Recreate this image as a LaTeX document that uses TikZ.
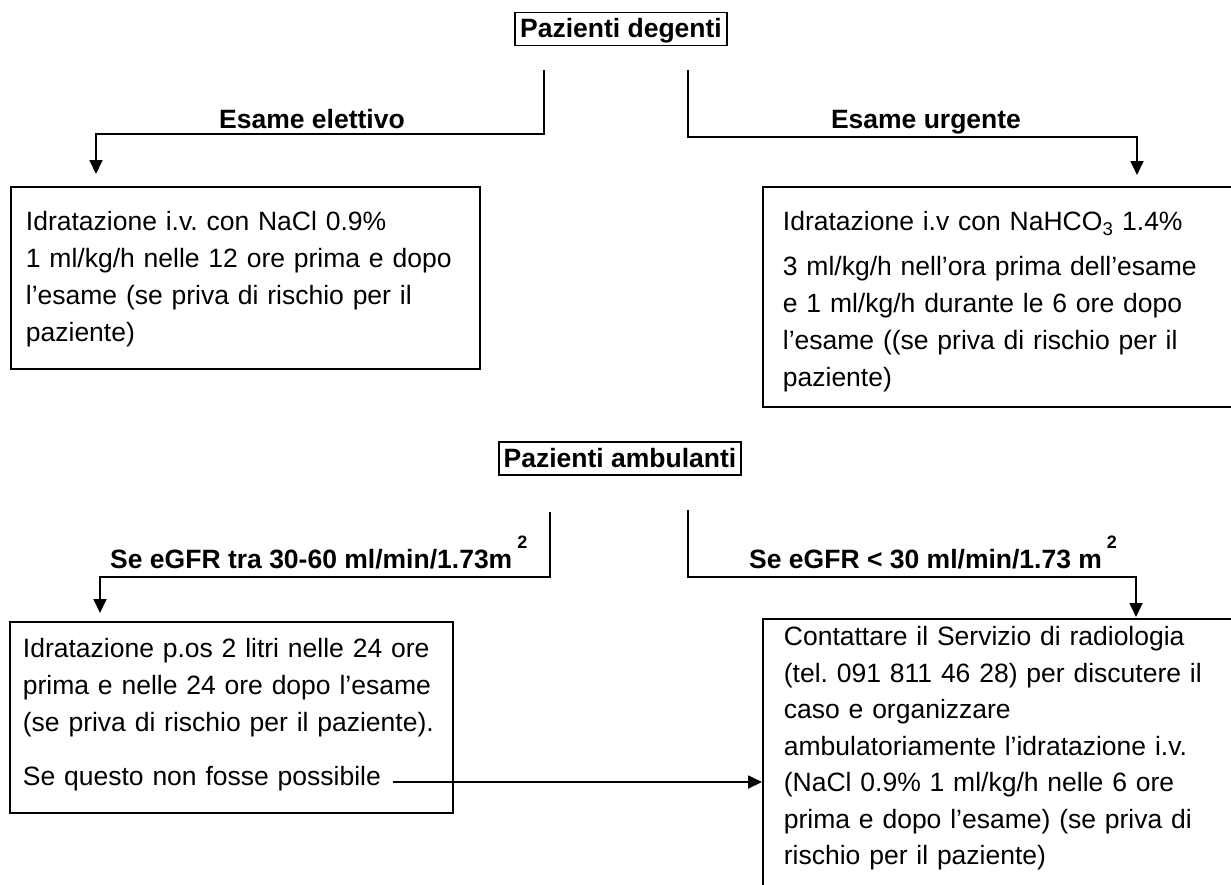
\documentclass[tikz,border=0pt]{standalone}
\usepackage{fontspec}
\setmainfont{Liberation Sans}
\usetikzlibrary{arrows.meta}
\frenchspacing
\newcommand{\topgap}[1]{\rule{0pt}{#1}}
\newcommand{\botgap}[1]{\rule[-#1]{0pt}{0pt}}
\newcommand{\sqtwo}{\hspace{5pt}\raisebox{20pt}{\fontsize{18pt}{18pt}\selectfont 2}}
\begin{document}
\begin{tikzpicture}[x=1pt,y=-1pt,line width=1.8pt,
        txt/.style={font=\fontsize{26.5pt}{37pt}\selectfont},
        ptbox/.style={draw,font=\fontsize{26.5pt}{37pt}\selectfont\bfseries,inner xsep=5pt,inner ysep=0pt,text height=25pt,text depth=8pt},
        lbl/.style={font=\fontsize{26.5pt}{37pt}\selectfont\bfseries,anchor=base},
        textbox/.style={txt,draw,anchor=north west,align=left,inner ysep=0pt},
        flow/.style={-{Triangle[length=14pt,width=13pt]}}]
    \useasboundingbox (0,0) rectangle (1231,884);
    \node[ptbox] (degenti) at (621,29) {Pazienti degenti};
    \node[ptbox] (ambulanti) at (620,458.5) {Pazienti ambulanti};
    \node[textbox,text width=439pt,inner xsep=15pt] (elettivo) at (10,186) {\topgap{44pt}Idratazione i.v. con NaCl 0.9\%\\1 ml/kg/h nelle 12 ore prima e dopo\\l’esame (se priva di rischio per il\\paziente)\botgap{27pt}};
    \node[textbox,text width=478pt,inner xsep=20pt] (urgente) at (762,186) {\topgap{44pt}Idratazione i.v con NaHCO\textsubscript{3} 1.4\%\\[8pt]3 ml/kg/h nell’ora prima dell’esame\\e 1 ml/kg/h durante le 6 ore dopo\\l’esame ((se priva di rischio per il\\paziente)\botgap{20pt}};
    \node[textbox,text width=417pt,inner xsep=13pt] (orale) at (9,621) {\topgap{36pt}Idratazione p.os 2 litri nelle 24 ore\\prima e nelle 24 ore dopo l’esame\\(se priva di rischio per il paziente).\\[17pt]Se questo non fosse possibile\botgap{27pt}};
    \node[textbox,text width=478pt,inner xsep=21pt,font=\fontsize{26.5pt}{36.5pt}\selectfont] (radiologia) at (762,618) {\topgap{27pt}Contattare il Servizio di radiologia\\(tel. 091 811 46 28) per discutere il\\caso e organizzare\\ambulatoriamente l’idratazione i.v.\\(NaCl 0.9\% 1 ml/kg/h nelle 6 ore\\prima e dopo l’esame) (se priva di\\rischio per il paziente)\botgap{40pt}};
    \node[lbl] (elet) at (312,128) {Esame elettivo};
    \node[lbl] (urg) at (926,128) {Esame urgente};
    \node[lbl,anchor=base west] (gfrA) at (106,568) {Se eGFR tra 30-60 ml/min/1.73m\sqtwo};
    \node[lbl,anchor=base west] (gfrB) at (745,568) {Se eGFR < 30 ml/min/1.73 m\sqtwo};
    \coordinate (degL) at (544,70);
    \coordinate (degR) at (688,70);
    \coordinate (ambL) at (550,512);
    \coordinate (ambR) at (688,510);
    \coordinate (nonposs) at (393,782);
    \draw[flow,shorten >=12pt] (degL) -- ++(0,64) -| ([xshift=86pt]elettivo.north west);
    \draw[flow,shorten >=11pt] (degR) -- ++(0,67) -| ([xshift=375pt]urgente.north west);
    \draw[flow,shorten >=8pt] (ambL) -- ++(0,65) -| ([xshift=91pt]orale.north west);
    \draw[flow,shorten >=1pt] (ambR) -- ++(0,67) -| ([xshift=374pt]radiologia.north west);
    \draw[flow] (nonposs) -- (nonposs -| radiologia.west);
\end{tikzpicture}
\end{document}
